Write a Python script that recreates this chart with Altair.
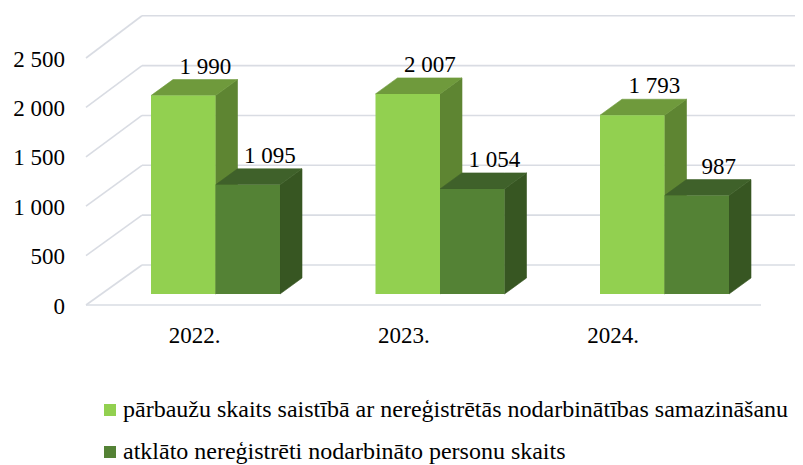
import altair as alt
import pandas as pd

# ---------------- data ----------------
years = ["2022.", "2023.", "2024."]
series = [
    "pārbaužu skaits saistībā ar nereģistrētās nodarbinātības samazināšanu",
    "atklāto nereģistrēti nodarbināto personu skaits",
]
inspections = [1990, 2007, 1793]
detected = [1095, 1054, 987]
tick_values = [0, 500, 1000, 1500, 2000, 2500]
tick_labels = ["0", "500", "1 000", "1 500", "2 000", "2 500"]

# ---------------- style ----------------
front_colors = ["#92D050", "#548235"]
top_colors = ["#6F9A3C", "#3F612A"]
side_colors = ["#5E8532", "#375622"]
grid_color = "#D9DCE3"
FONT = "Liberation Serif"

# ---------------- layout (pixels) ----------------
W, H = 787, 457
MARGIN = 8
K = 0.0997          # px per unit in the bar / back-wall plane
KF = 0.0988         # px per unit in the front floor plane
ZERO_PX = 294       # bar bottom
BACK_ZERO_PX = 265  # back wall floor line
FRONT_ZERO_PX = 305 # front floor edge
LABEL_ZERO_PX = 306.5
WALL_FRONT_X = 86
WALL_BACK_X = 142
FLOOR_RIGHT_X = 761
GROUP_X0 = 151
GROUP_STEP = 224.5
BAR_W = 64.5
DEPTH_X = 22
DEPTH_Y = 16
AXIS_LABEL_X = 65
CAT_X0 = 194.5
CAT_STEP = 209.3
CAT_Y_PX = 336


def u(px):
    """image pixel row -> value units of the y scale"""
    return (ZERO_PX - px) / K


DV = DEPTH_Y / K

xscale = alt.Scale(domain=[MARGIN, MARGIN + W], nice=False, zero=False)
yscale = alt.Scale(domain=[u(MARGIN + H), u(MARGIN)], nice=False, zero=False)

# ---------------- tables ----------------
grid_rows = []
for t in tick_values:
    grid_rows.append(dict(x=WALL_FRONT_X, y=u(FRONT_ZERO_PX - KF * t),
                          x2=WALL_BACK_X, y2=u(BACK_ZERO_PX - K * t)))
    grid_rows.append(dict(x=WALL_BACK_X, y=u(BACK_ZERO_PX - K * t),
                          x2=MARGIN + W, y2=u(BACK_ZERO_PX - K * t)))
grid_rows.append(dict(x=WALL_FRONT_X, y=u(FRONT_ZERO_PX),
                      x2=FLOOR_RIGHT_X, y2=u(FRONT_ZERO_PX)))
grid_df = pd.DataFrame(grid_rows)

front_rows, area_rows, label_rows = [], [], []
values = [inspections, detected]
for i, yr in enumerate(years):
    for s in range(2):
        v = values[s][i]
        x0 = GROUP_X0 + i * GROUP_STEP + s * BAR_W
        x1 = x0 + BAR_W
        front_rows.append(dict(x=x0, x2=x1, y=0, y2=v, series=series[s], order=i * 2 + s))
        fid = f"{yr}-{s}"
        # side face
        area_rows += [
            dict(face="side-" + fid, kind=0, x=x1, y=0, y2=v, c=side_colors[s]),
            dict(face="side-" + fid, kind=0, x=x1 + DEPTH_X, y=DV, y2=v + DV, c=side_colors[s]),
        ]
        # top face
        area_rows += [
            dict(face="top-" + fid, kind=1, x=x0, y=v, y2=v, c=top_colors[s]),
            dict(face="top-" + fid, kind=1, x=x0 + DEPTH_X, y=v, y2=v + DV, c=top_colors[s]),
            dict(face="top-" + fid, kind=1, x=x1, y=v, y2=v + DV, c=top_colors[s]),
            dict(face="top-" + fid, kind=1, x=x1 + DEPTH_X, y=v + DV, y2=v + DV, c=top_colors[s]),
        ]
        label_rows.append(dict(x=(x0 + x1) / 2 + DEPTH_X, y=v + DV,
                               text=f"{v:,}".replace(",", " ")))
front_df = pd.DataFrame(front_rows)
area_df = pd.DataFrame(area_rows)
label_df = pd.DataFrame(label_rows)

axis_df = pd.DataFrame(dict(
    x=[AXIS_LABEL_X] * len(tick_values),
    y=[u(LABEL_ZERO_PX - KF * t) for t in tick_values],
    text=tick_labels,
))
cat_df = pd.DataFrame(dict(
    x=[CAT_X0 + i * CAT_STEP for i in range(len(years))],
    y=[u(CAT_Y_PX)] * len(years),
    text=years,
))

X = lambda f="x": alt.X(f"{f}:Q", scale=xscale, axis=None)
Y = lambda f="y": alt.Y(f"{f}:Q", scale=yscale, axis=None, stack=None)

grid = alt.Chart(grid_df).mark_rule(color=grid_color, strokeWidth=1.6).encode(
    x=X(), y=Y(), x2="x2:Q", y2="y2:Q")

sides = alt.Chart(area_df[area_df.kind == 0]).mark_area(strokeWidth=0.6).encode(
    x=X(), y=Y(), y2="y2:Q", detail="face:N",
    fill=alt.Fill("c:N", scale=None), stroke=alt.Stroke("c:N", scale=None))

tops = alt.Chart(area_df[area_df.kind == 1]).mark_area(strokeWidth=0.6).encode(
    x=X(), y=Y(), y2="y2:Q", detail="face:N",
    fill=alt.Fill("c:N", scale=None), stroke=alt.Stroke("c:N", scale=None))

fronts = alt.Chart(front_df).mark_rect().encode(
    x=X(), x2="x2:Q", y=Y(), y2="y2:Q",
    color=alt.Color("series:N", scale=alt.Scale(domain=series, range=front_colors),
                    legend=alt.Legend(title=None, orient="none", legendX=90, legendY=390,
                                      direction="vertical", symbolType="square",
                                      symbolSize=144, symbolStrokeWidth=0,
                                      labelFont=FONT, labelFontSize=24, labelColor="black",
                                      labelLimit=0, labelOffset=1, rowPadding=18,
                                      padding=0)),
    order="order:Q")

value_labels = alt.Chart(label_df).mark_text(
    font=FONT, fontSize=23, color="black", align="center", baseline="alphabetic", dy=-6
).encode(x=X(), y=Y(), text="text:N")

axis_labels = alt.Chart(axis_df).mark_text(
    font=FONT, fontSize=23, color="black", align="right", baseline="middle"
).encode(x=X(), y=Y(), text="text:N")

cat_labels = alt.Chart(cat_df).mark_text(
    font=FONT, fontSize=23, color="black", align="center", baseline="middle"
).encode(x=X(), y=Y(), text="text:N")

chart = alt.layer(grid, sides, tops, fronts, value_labels, axis_labels, cat_labels).properties(
    width=W, height=H, padding=0, autosize=alt.AutoSizeParams(type="none")
).configure(font=FONT).configure_view(stroke=None)

chart.save("out.html", embed_options={"renderer": "svg", "actions": False})
